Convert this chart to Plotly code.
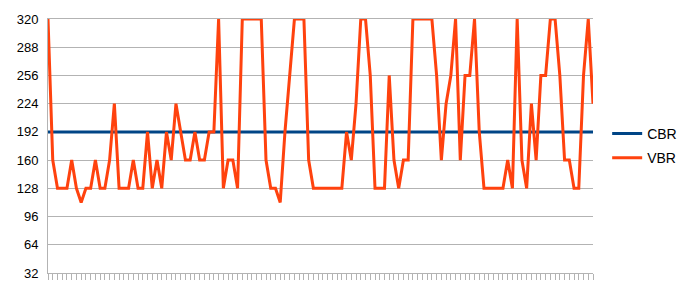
import plotly.graph_objects as go

vbr = [320, 160, 128, 128, 128, 160, 128, 112, 128, 128,
       160, 128, 128, 160, 224, 128, 128, 128, 160, 128,
       128, 192, 128, 160, 128, 192, 160, 224, 192, 160,
       160, 192, 160, 160, 192, 192, 320, 128, 160, 160,
       128, 320, 320, 320, 320, 320, 160, 128, 128, 112,
       192, 256, 320, 320, 320, 160, 128, 128, 128, 128,
       128, 128, 128, 192, 160, 224, 320, 320, 256, 128,
       128, 128, 256, 160, 128, 160, 160, 320, 320, 320,
       320, 320, 256, 160, 224, 256, 320, 160, 256, 256,
       320, 192, 128, 128, 128, 128, 128, 160, 128, 320,
       160, 128, 224, 160, 256, 256, 320, 320, 256, 160,
       160, 128, 128, 256, 320, 224]
cbr_value = 192
cbr = [cbr_value] * len(vbr)
categories = list(range(1, len(vbr) + 1))
y_ticks = [32, 64, 96, 128, 160, 192, 224, 256, 288, 320]

fig = go.Figure()
fig.add_trace(go.Scatter(x=categories, y=cbr, mode="lines", name="CBR",
                         legendgroup="a",
                         line=dict(color="#004586", width=3)))
fig.add_trace(go.Scatter(x=categories, y=vbr, mode="lines", name="VBR",
                         legendgroup="b",
                         line=dict(color="#ff420e", width=3)))

fig.update_layout(
    width=694, height=293,
    margin=dict(l=48, r=100, t=16, b=16),
    paper_bgcolor="white", plot_bgcolor="white",
    font=dict(family="Liberation Sans", size=13, color="#000000"),
    showlegend=True,
    legend=dict(x=1.026, y=0.50, xanchor="left", yanchor="middle",
                font=dict(size=14, color="#000000"), tracegroupgap=3,
                itemwidth=30, bgcolor="rgba(0,0,0,0)"),
    xaxis=dict(range=[1, len(vbr)], showgrid=False, zeroline=False,
               showline=True, linecolor="#b3b3b3", linewidth=1, mirror=True,
               ticks="outside", tickmode="linear", tick0=1, dtick=1,
               ticklen=6, tickcolor="#b3b3b3", tickwidth=1,
               showticklabels=False),
    yaxis=dict(range=[32, 320], tickmode="array", tickvals=y_ticks,
               ticktext=[str(v) for v in y_ticks],
               showgrid=True, gridcolor="#b3b3b3", gridwidth=1,
               zeroline=False, showline=True, linecolor="#b3b3b3",
               linewidth=1, ticks="", ticklabelstandoff=6),
)

fig.write_html("out.html")
